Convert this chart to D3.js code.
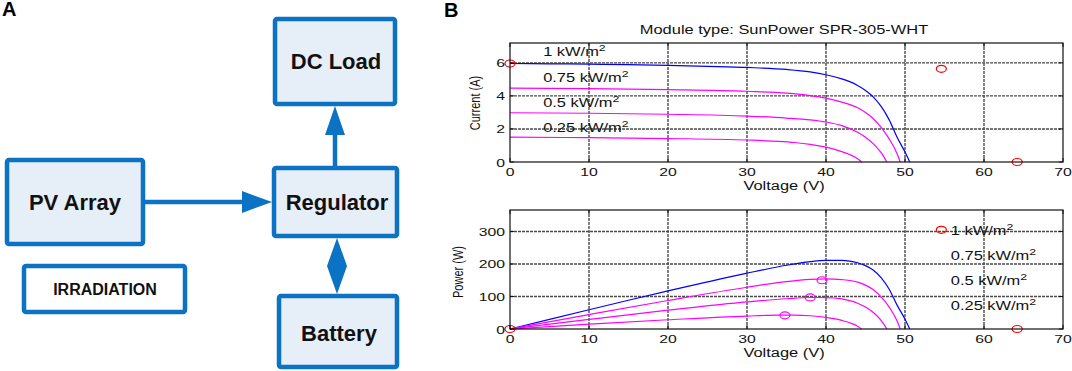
<!DOCTYPE html>
<html>
<head>
<meta charset="utf-8">
<script src="https://cdn.jsdelivr.net/npm/d3@7/dist/d3.min.js"></script>
<style>
  html, body { margin: 0; padding: 0; background: #fff; }
  svg { display: block; font-family: 'Liberation Sans', Arial, sans-serif; }
</style>
</head>
<body>
<div id="chart"></div>
<script>
// --- datos -----------------------------------------------------------------
const irrLabels = ['1 kW/m', '0.75 kW/m', '0.5 kW/m', '0.25 kW/m'];
const chartTitle = 'Module type: SunPower SPR-305-WHT';

// curva 1 kW/m2
const v1000 = [0, 5, 10, 15, 20, 25, 30, 35, 38, 40, 42, 43, 44, 45, 46, 47, 48, 49, 50, 50.6];
const i1000 = [5.96, 5.94, 5.92, 5.89, 5.85, 5.79, 5.72, 5.6, 5.45, 5.28, 5.03, 4.86, 4.63, 4.33, 3.93, 3.35, 2.55, 1.5, 0.6, 0];
const p1000 = [0, 29.7, 59.2, 88.4, 117, 144.8, 171.6, 196, 207.1, 211.2, 211.3, 209, 203.7, 194.9, 180.8, 157.5, 122.4, 73.5, 30, 0];

// curva 0.75 kW/m2
const v750 = [0, 10, 20, 30, 35, 38, 40, 42, 44, 45, 46, 47, 48, 49, 49.4];
const i750 = [4.47, 4.44, 4.38, 4.28, 4.17, 4.02, 3.86, 3.62, 3.28, 3.0, 2.62, 2.08, 1.4, 0.5, 0];
const p750 = [0, 44.4, 87.6, 128.4, 146, 152.8, 154.4, 152, 144.3, 135, 120.5, 97.8, 67.2, 24.5, 0];

// curva 0.5 kW/m2
const v500 = [0, 10, 20, 30, 35, 38, 40, 42, 44, 45, 46, 47, 47.7];
const i500 = [2.98, 2.95, 2.89, 2.78, 2.66, 2.55, 2.42, 2.2, 1.8, 1.5, 1.1, 0.55, 0];
const p500 = [0, 29.5, 57.8, 83.4, 93.1, 96.9, 96.8, 92.4, 79.2, 67.5, 50.6, 25.9, 0];

// curva 0.25 kW/m2
const v250 = [0, 10, 20, 30, 34, 36, 38, 40, 41, 42, 43, 44, 44.5];
const i250 = [1.5, 1.47, 1.42, 1.33, 1.25, 1.18, 1.07, 0.9, 0.78, 0.63, 0.45, 0.2, 0];
const p250 = [0, 14.7, 28.4, 39.9, 42.5, 42.5, 40.7, 36, 32, 26.5, 19.4, 8.8, 0];

// puntos de máxima potencia (0.75, 0.5, 0.25)
const mppV = [39.5, 38, 34.8];
const mppP = [150, 97, 42];

// marcadores rojos
const redIV = [[0, 5.96], [54.6, 5.64], [64.2, 0]];
const redPV = [[0, 0], [54.6, 305], [64.2, 0]];

// ejes
const xTicks = [0, 10, 20, 30, 40, 50, 60, 70];
const iTicks = [0, 2, 4, 6];
const pTicks = [0, 100, 200, 300];

// --- lienzo -----------------------------------------------------------------
const W = 1072, H = 371;
const svg = d3.select('#chart').append('svg')
  .attr('width', W).attr('height', H);
svg.append('rect').attr('width', W).attr('height', H).attr('fill', '#fff');

// --- panel A: diagrama de bloques ---------------------------------------------
const blue = '#0b72c4';
const boxFill = '#e6eef8';
const boxes = [
  { t: 'DC Load',     x: 275, y: 19,  w: 120, h: 85, fs: 22, fill: boxFill, cx: 336, cy: 61 },
  { t: 'Regulator',   x: 274, y: 168, w: 123, h: 68, fs: 22, fill: boxFill, cx: 337, cy: 202 },
  { t: 'PV Array',    x: 7,   y: 160, w: 136, h: 84, fs: 22, fill: boxFill, cx: 75,  cy: 202 },
  { t: 'IRRADIATION', x: 24,  y: 266, w: 161, h: 46, fs: 16, fill: '#fff',  cx: 105, cy: 289 },
  { t: 'Battery',     x: 279, y: 296, w: 118, h: 71, fs: 22, fill: boxFill, cx: 339, cy: 333 }
];

const gA = svg.append('g');
gA.selectAll('rect.box').data(boxes).join('rect')
  .attr('class', 'box')
  .attr('x', d => d.x).attr('y', d => d.y)
  .attr('width', d => d.w).attr('height', d => d.h)
  .attr('rx', 2)
  .attr('fill', d => d.fill)
  .attr('stroke', blue).attr('stroke-width', 4.5);
gA.selectAll('text.box').data(boxes).join('text')
  .attr('class', 'box')
  .attr('x', d => d.cx).attr('y', d => d.cy)
  .attr('dy', '0.36em')
  .attr('text-anchor', 'middle')
  .attr('font-weight', 'bold')
  .attr('font-size', d => d.fs)
  .attr('fill', '#111')
  .text(d => d.t);

// flecha PV -> regulador
gA.append('line').attr('x1', 145).attr('y1', 202).attr('x2', 246).attr('y2', 202)
  .attr('stroke', blue).attr('stroke-width', 4.5);
gA.append('path').attr('d', 'M242,191 L272,202 L242,213 Z').attr('fill', blue);
// flecha regulador -> carga
gA.append('line').attr('x1', 335).attr('y1', 166).attr('x2', 335).attr('y2', 132)
  .attr('stroke', blue).attr('stroke-width', 4.5);
gA.append('path').attr('d', 'M325,135 L335,106 L345,135 Z').attr('fill', blue);
// doble sentido regulador <-> batería
gA.append('path').attr('d', 'M337,238 L347,266 L337,294 L327,266 Z').attr('fill', blue);

// letras de panel
svg.append('text').attr('x', 2).attr('y', 16).attr('font-size', 20).attr('font-weight', 'bold').text('A');
svg.append('text').attr('x', 444).attr('y', 17).attr('font-size', 20).attr('font-weight', 'bold').text('B');

// --- panel B: curvas I-V y P-V --------------------------------------------------
const sx = 1.37; // el texto de la figura original está estirado en horizontal
const x = d3.scaleLinear().domain([0, 70]).range([510, 1063]);

function stretchedText(g, px, py, str, opts = {}) {
  const t = g.append('text')
    .attr('transform', `translate(${px},${py}) scale(${sx},1)${opts.rotate ? ' rotate(-90)' : ''}`)
    .attr('text-anchor', opts.anchor || 'middle')
    .attr('font-size', opts.fs || 12)
    .attr('fill', '#111');
  if (opts.sup) {
    t.append('tspan').text(str);
    t.append('tspan').attr('dy', -5).attr('font-size', (opts.fs || 12) * 0.75).text('2');
  } else {
    t.text(str);
  }
  return t;
}

function drawPanel(cfg) {
  const g = svg.append('g');
  const y = d3.scaleLinear().domain([0, cfg.ymax]).range([cfg.y0, cfg.y1]);

  // rejilla
  g.append('g').selectAll('line').data(xTicks.slice(1, -1)).join('line')
    .attr('x1', d => x(d)).attr('x2', d => x(d))
    .attr('y1', y(0)).attr('y2', y(cfg.ymax))
    .attr('stroke', '#4a4a4a').attr('stroke-width', 1.4).attr('stroke-dasharray', '3,1');
  g.append('g').selectAll('line').data(cfg.yTicks.slice(1)).join('line')
    .attr('x1', x(0)).attr('x2', x(70))
    .attr('y1', d => y(d)).attr('y2', d => y(d))
    .attr('stroke', '#4a4a4a').attr('stroke-width', 1.4).attr('stroke-dasharray', '3,1');

  // curvas
  const line = d3.line().x(d => x(d[0])).y(d => y(d[1])).curve(d3.curveMonotoneX);
  cfg.series.forEach(s => {
    g.append('path')
      .datum(d3.zip(s.v, s.val))
      .attr('d', line)
      .attr('fill', 'none')
      .attr('stroke', s.color)
      .attr('stroke-width', 1.2);
  });

  // marcadores
  if (cfg.mpp) {
    g.append('g').selectAll('ellipse').data(d3.zip(mppV, mppP)).join('ellipse')
      .attr('cx', d => x(d[0])).attr('cy', d => y(d[1]))
      .attr('rx', 5).attr('ry', 3.5)
      .attr('fill', 'none').attr('stroke', '#ff00ff').attr('stroke-width', 1.2);
  }
  g.append('g').selectAll('ellipse').data(cfg.red).join('ellipse')
    .attr('cx', d => x(d[0])).attr('cy', d => y(d[1]))
    .attr('rx', 5).attr('ry', 3.5)
    .attr('fill', 'none').attr('stroke', '#ff0000').attr('stroke-width', 1.2);

  // etiquetas de irradiancia
  irrLabels.forEach((lab, k) => {
    stretchedText(g, x(cfg.labelX), y(cfg.labelY[k]) + 4, lab, { anchor: 'start', sup: true });
  });

  // caja y marcas de los ejes
  g.append('rect')
    .attr('x', x(0)).attr('y', y(cfg.ymax))
    .attr('width', x(70) - x(0)).attr('height', y(0) - y(cfg.ymax))
    .attr('fill', 'none').attr('stroke', '#111').attr('stroke-width', 1.2);
  const tl = 4;
  xTicks.forEach(t => {
    g.append('line').attr('x1', x(t)).attr('x2', x(t)).attr('y1', y(0)).attr('y2', y(0) - tl).attr('stroke', '#111');
    g.append('line').attr('x1', x(t)).attr('x2', x(t)).attr('y1', y(cfg.ymax)).attr('y2', y(cfg.ymax) + tl).attr('stroke', '#111');
    stretchedText(g, x(t), y(0) + 14, String(t), { fs: 11.5 });
  });
  cfg.yTicks.forEach(t => {
    g.append('line').attr('x1', x(0)).attr('x2', x(0) + tl).attr('y1', y(t)).attr('y2', y(t)).attr('stroke', '#111');
    g.append('line').attr('x1', x(70)).attr('x2', x(70) - tl).attr('y1', y(t)).attr('y2', y(t)).attr('stroke', '#111');
    stretchedText(g, 505, y(t) + 4.5, String(t), { anchor: 'end', fs: 11.5 });
  });

  // títulos de ejes
  stretchedText(g, 784, cfg.y0 + 28, 'Voltage (V)', { fs: 12 });
  stretchedText(g, cfg.ylabX, cfg.ylabY, cfg.ylab, { fs: 11, rotate: true });
}

drawPanel({
  y0: 162, y1: 43, ymax: 7.2, yTicks: iTicks,
  series: [
    { v: v1000, val: i1000, color: '#0000ff' },
    { v: v750,  val: i750,  color: '#ff00ff' },
    { v: v500,  val: i500,  color: '#ff00ff' },
    { v: v250,  val: i250,  color: '#ff00ff' }
  ],
  red: redIV, mpp: false,
  labelX: 4.2, labelY: [6.63, 5.06, 3.55, 2.05],
  ylab: 'Current (A)', ylabX: 480, ylabY: 103
});

drawPanel({
  y0: 329, y1: 210, ymax: 366, yTicks: pTicks,
  series: [
    { v: v1000, val: p1000, color: '#0000ff' },
    { v: v750,  val: p750,  color: '#ff00ff' },
    { v: v500,  val: p500,  color: '#ff00ff' },
    { v: v250,  val: p250,  color: '#ff00ff' }
  ],
  red: redPV, mpp: true,
  labelX: 55.8, labelY: [302, 224, 149, 72],
  ylab: 'Power (W)', ylabX: 463, ylabY: 272
});

// título
stretchedText(svg, 784, 34, chartTitle, { fs: 12 });
</script>
</body>
</html>
